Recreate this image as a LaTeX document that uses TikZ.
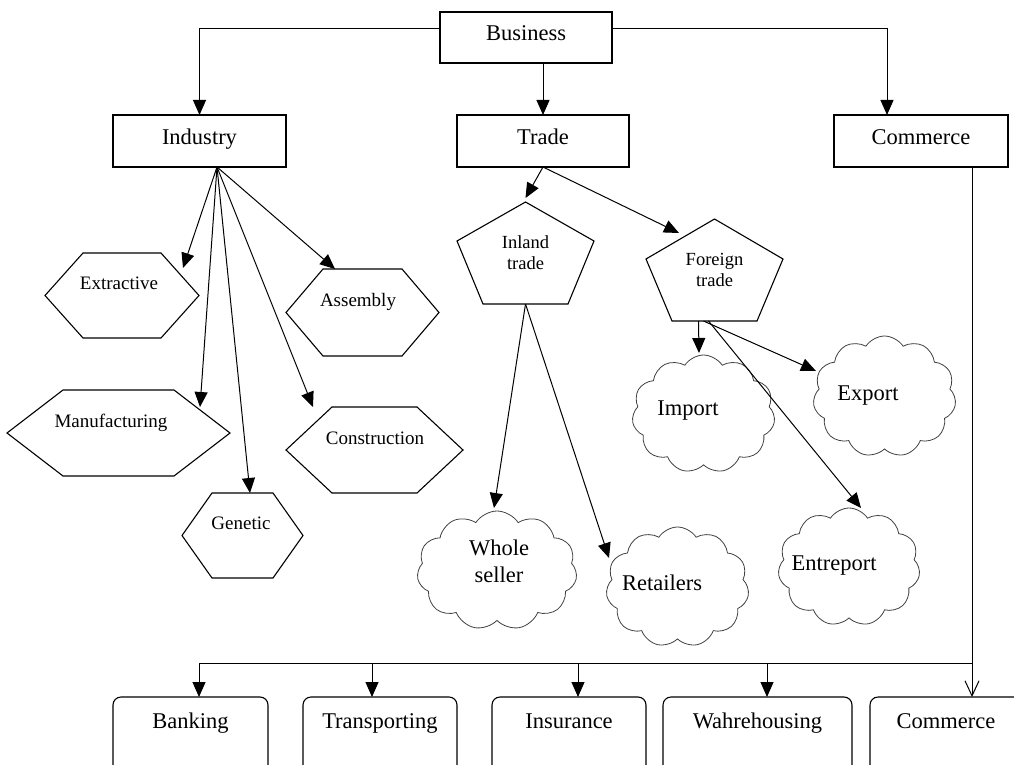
\documentclass[tikz,border=0pt]{standalone}
\usepackage{fontspec}
\setmainfont{Liberation Serif}
\usetikzlibrary{arrows.meta,shapes.symbols}

% outline of a flat-topped hexagon inside a rectangular node
\newcommand\hexoutline[2]{%
  \draw[shapeline] (#1.west) -- ([xshift=#2]#1.north west) -- ([xshift=-#2]#1.north east)
    -- (#1.east) -- ([xshift=-#2]#1.south east) -- ([xshift=#2]#1.south west) -- cycle;}
% outline of a pentagon inside a rectangular node: node, drop of side corners, bottom inset
\newcommand\pentoutline[3]{%
  \draw[shapeline] (#1.north) -- ([yshift=-#2]#1.north west) -- ([xshift=#3]#1.south west)
    -- ([xshift=-#3]#1.south east) -- ([yshift=-#2]#1.north east) -- cycle;}

\begin{document}
\begin{tikzpicture}[x=1pt,y=-1pt,
  every node/.style={inner sep=0pt, outer sep=0pt},
  shapeline/.style={draw, line width=1.1pt, line join=miter},
  boxnode/.style={draw, line width=1.1pt, rectangle},
  roundbox/.style={draw, line width=1.1pt, rectangle, rounded corners=8pt},
  frame/.style={rectangle},
  cloudnode/.style={cloud, cloud puffs=11, cloud puff arc=115, cloud ignores aspect,
    draw=black!75, line width=0.8pt},
  big/.style={font=\fontsize{22.5}{27}\selectfont, text height=15.75pt, text depth=4.95pt},
  bigtwo/.style={font=\fontsize{22.5}{27}\selectfont, align=center},
  mid/.style={font=\fontsize{19}{22}\selectfont, text height=13.3pt, text depth=4.2pt},
  small/.style={font=\fontsize{18.5}{21}\selectfont, align=center},
  link/.style={line width=1pt},
  arr/.style={link, -{Triangle[length=15pt,width=13pt]}},
  barb/.style={link, -{Straight Barb[length=15pt,width=14pt]}}]

\clip (0,0) rectangle (1014,765);

% top level
\node[boxnode, minimum width=172pt, minimum height=51pt,
  label={[big, yshift=2.5pt]center:Business}] (bus) at (526,37.5) {};
\node[boxnode, minimum width=173pt, minimum height=52pt,
  label={[big, yshift=2pt]center:Industry}] (ind) at (199.5,141) {};
\node[boxnode, minimum width=172pt, minimum height=52pt,
  label={[big, yshift=2pt]center:Trade}] (trd) at (543,141) {};
\node[boxnode, minimum width=174pt, minimum height=52pt,
  label={[big, yshift=2pt]center:Commerce}] (com) at (921,141) {};

% kinds of industry
\node[frame, minimum width=154pt, minimum height=85pt,
  label={[mid, shift={(-3pt,10.8pt)}]center:Extractive}] (ext) at (122,295.5) {};
\node[frame, minimum width=153pt, minimum height=87pt,
  label={[mid, shift={(-4.5pt,10.8pt)}]center:Assembly}] (asm) at (362.5,312.5) {};
\node[frame, minimum width=223pt, minimum height=86pt,
  label={[mid, shift={(-7.5pt,10.3pt)}]center:Manufacturing}] (man) at (118.5,433) {};
\node[frame, minimum width=177pt, minimum height=86pt,
  label={[mid, shift={(0.5pt,10.3pt)}]center:Construction}] (con) at (374.5,450) {};
\node[frame, minimum width=121pt, minimum height=85pt,
  label={[mid, shift={(-1.5pt,10.8pt)}]center:Genetic}] (gen) at (242.5,535.5) {};
\hexoutline{ext}{38pt}
\hexoutline{asm}{37pt}
\hexoutline{man}{56pt}
\hexoutline{con}{46pt}
\hexoutline{gen}{30pt}

% kinds of trade
\node[frame, small, minimum width=137pt, minimum height=102pt] (inl) at (525.5,253) {Inland\\trade};
\node[frame, small, minimum width=137pt, minimum height=102pt] (frn) at (714.5,270) {Foreign\\trade};
\pentoutline{inl}{39pt}{26pt}
\pentoutline{frn}{40pt}{26pt}

% clouds
\node[cloudnode, minimum width=143pt, minimum height=118pt,
  label={[big, shift={(-15.5pt,4pt)}]center:Import}] (imp) at (703.5,414) {};
\node[cloudnode, minimum width=143pt, minimum height=121pt,
  label={[big, shift={(-16.5pt,1.5pt)}]center:Export}] (exp) at (884.5,396.5) {};
\node[cloudnode, minimum width=160pt, minimum height=119pt,
  label={[bigtwo, shift={(2pt,9pt)}]center:Whole\\seller}] (ws) at (497,570.5) {};
\node[cloudnode, minimum width=143pt, minimum height=120pt,
  label={[big, shift={(-15.5pt,2pt)}]center:Retailers}] (ret) at (677.5,587) {};
\node[cloudnode, minimum width=142pt, minimum height=118pt,
  label={[big, shift={(-15pt,2pt)}]center:Entreport}] (ent) at (849,567) {};

% aids to trade
\node[roundbox, minimum width=155pt, minimum height=80pt,
  label={[big, yshift=14pt]center:Banking}] (bank) at (190.5,737) {};
\node[roundbox, minimum width=154pt, minimum height=80pt,
  label={[big, yshift=14pt]center:Transporting}] (trans) at (380,737) {};
\node[roundbox, minimum width=154pt, minimum height=80pt,
  label={[big, yshift=14pt]center:Insurance}] (ins) at (569,737) {};
\node[roundbox, minimum width=189pt, minimum height=80pt,
  label={[big, yshift=14pt]center:Wahrehousing}] (wah) at (757.5,737) {};
\node[roundbox, minimum width=152pt, minimum height=80pt,
  label={[big, yshift=14pt]center:Commerce}] (com2) at (946,737) {};

% connectors from Business
\draw[arr] ([yshift=8.5pt]bus.west) -| (ind.north);
\draw[arr] (trd.north |- bus.south) -- (trd.north);
\draw[arr] ([yshift=8.5pt]bus.east) -| ([xshift=-34pt]com.north);

% connectors from Industry
\coordinate (indout) at ([xshift=17.5pt]ind.south);
\draw[arr] (indout) -- ([shift={(-16pt,-15pt)}]ext.north east);
\draw[arr] (indout) -- ([shift={(-30pt,-17pt)}]man.north east);
\draw[arr] (indout) -- ([xshift=7.5pt]gen.north);
\draw[arr] (indout) -- ([xshift=27pt]con.north west);
\draw[arr] (indout) -- ([xshift=49pt]asm.north west);

% connectors from Trade
\draw[arr] (trd.south) -- ([yshift=4pt]inl.north);
\draw[arr] (trd.south) -- ([shift={(33pt,-14pt)}]frn.north west);
\draw[arr] (inl.south) -- ([shift={(-3pt,62.5pt)}]ws.center);
\draw[arr] (inl.south) -- ([shift={(-68.5pt,29pt)}]ret.center);
\draw[arr] ([xshift=-16pt]frn.south) -- ([shift={(-4.5pt,61pt)}]imp.center);
\draw[arr] ([xshift=-11pt]frn.south) -- ([shift={(-68.5pt,25.5pt)}]exp.center);
\draw[arr] ([xshift=-6pt]frn.south) -- ([shift={(12pt,59pt)}]ent.center);

% connectors from Commerce
\coordinate (comout) at ([xshift=-36pt]com.south east);
\coordinate (rail) at (972,663);
\draw[barb] (comout) -- (comout |- com2.north);
\draw[arr] (rail) -| ([xshift=8.5pt]bank.north);
\draw[arr] (rail) -| ([xshift=-8pt]trans.north);
\draw[arr] (rail) -| ([xshift=9pt]ins.north);
\draw[arr] (rail) -| ([xshift=9.5pt]wah.north);
\end{tikzpicture}
\end{document}
